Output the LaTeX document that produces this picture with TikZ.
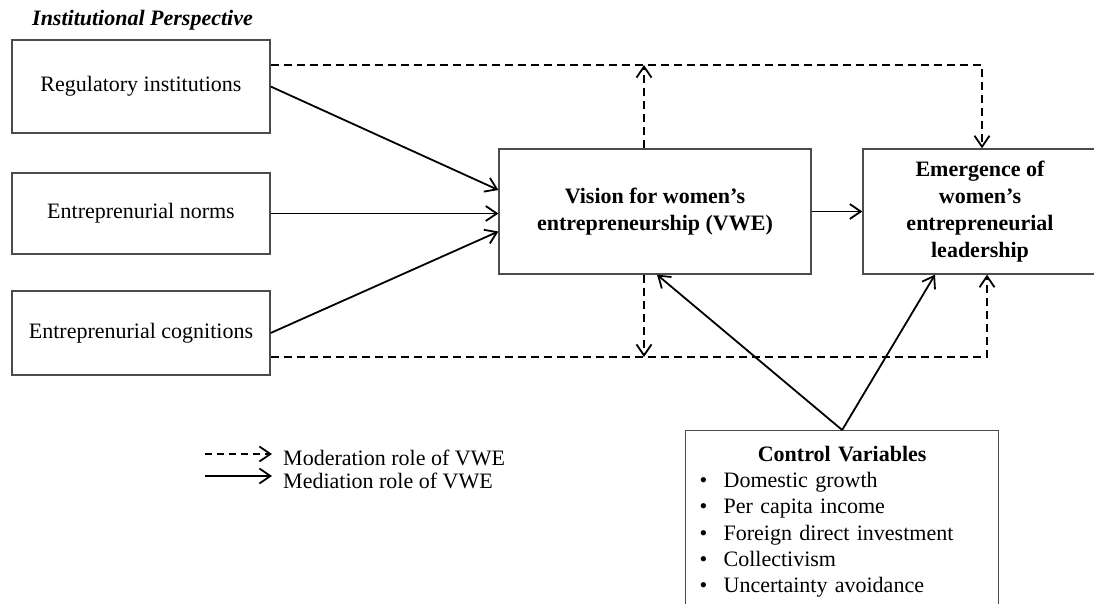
\documentclass[tikz,border=0pt]{standalone}
\usepackage{fontspec}
\setmainfont{Liberation Serif}
\usetikzlibrary{arrows.meta,positioning}

\begin{document}
\begin{tikzpicture}[x=1pt,y=-1pt,
		font=\fontsize{22}{27}\selectfont,
		>={Straight Barb[length=11pt,width=15pt,line width=1.8pt]},
		box/.style={draw=black!70,line width=1.3pt,inner sep=0pt,align=center},
		conn/.style={line width=1.8pt,->},
		modline/.style={line width=2pt,dash pattern=on 8pt off 5pt}]
	\useasboundingbox (0,0) rectangle (1094,604);
	% institutional side
	\node[anchor=west,inner sep=0pt,font=\fontsize{22}{27}\selectfont\bfseries\itshape] (title) at (32,20) {Institutional Perspective};
	\node[box,minimum width=258pt,minimum height=93pt] (reg) at (141,86.5) {Regulatory institutions};
	\node[box,minimum width=258pt,minimum height=81pt] (norm) at (141,213.5) {Entreprenurial norms};
	\node[box,minimum width=258pt,minimum height=84pt] (cog) at (141,333) {Entreprenurial cognitions};
	% vision and outcome
	\node[box,minimum width=312pt,minimum height=125pt,font=\fontsize{22}{27}\selectfont\bfseries] (vwe) at (655,211.5) {Vision for women’s\\entrepreneurship (VWE)};
	\node[box,minimum width=234pt,minimum height=125pt,font=\fontsize{22}{27}\selectfont\bfseries] (lead) at (980,211.5) {Emergence of\\women’s\\entrepreneurial\\leadership};
	\node[box,anchor=north west,minimum width=313pt,minimum height=182pt,text width=285pt,align=left,font=\fontsize{22}{26.3}\selectfont] (ctrl) at (685,430) {%
		\makebox[285pt]{\textbf{Control Variables}}\\
		\makebox[24pt][l]{\textbullet}Domestic growth\\
		\makebox[24pt][l]{\textbullet}Per capita income\\
		\makebox[24pt][l]{\textbullet}Foreign direct investment\\
		\makebox[24pt][l]{\textbullet}Collectivism\\
		\makebox[24pt][l]{\textbullet}Uncertainty avoidance};
	% moderation
	\coordinate (mt) at (644,65);
	\coordinate (mb) at (644,357);
	\draw[modline,->] (reg.east|-mt) -| ([xshift=2pt]lead.north);
	\draw[modline,->] (vwe.north-|mt) -- (mt);
	\draw[modline,->] (cog.east|-mb) -| ([xshift=7pt]lead.south);
	\draw[modline,->] (vwe.south-|mb) -- (mb);
	% mediation
	\path[conn]
		(reg.east) edge ([yshift=21.5pt]vwe.west)
		(norm.east) edge (norm.east-|vwe.west)
		(cog.east) edge ([yshift=-20pt]vwe.west)
		(vwe.east) edge (lead.west)
		(ctrl.north) edge ([xshift=2pt]vwe.south)
		(ctrl.north) edge ([xshift=-45pt]lead.south);
	% legend
	\coordinate (ms) at (205,454);
	\coordinate (me) at (272,454);
	\coordinate (ss) at (205,476);
	\coordinate (se) at (272,476);
	\draw[modline,dash pattern=on 7pt off 5pt,->] (ms) -- (me);
	\draw[conn] (ss) -- (se);
	\node[anchor=base west,inner sep=0pt] (modlab) at (283,465) {Moderation role of VWE};
	\node[anchor=base west,inner sep=0pt] (medlab) at (283,488) {Mediation role of VWE};
\end{tikzpicture}
\end{document}
